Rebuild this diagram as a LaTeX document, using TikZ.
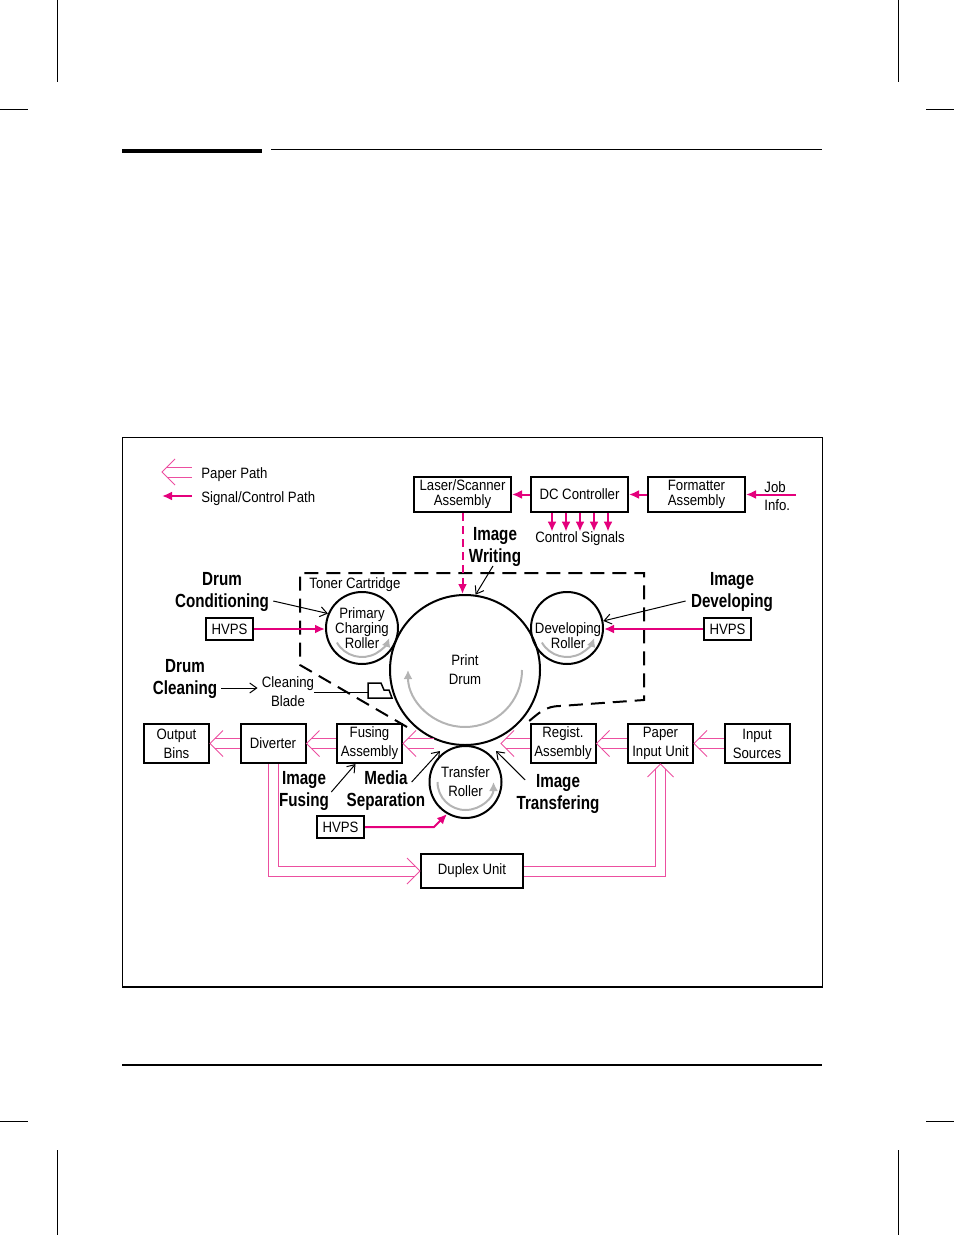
\documentclass[tikz,border=0pt]{standalone}
\usepackage{fontspec}
\setmainfont{Liberation Sans}[FakeStretch=0.88]
\newfontfamily\headfont{Liberation Sans}[FakeStretch=0.8]
\usetikzlibrary{arrows.meta,positioning,calc}
\definecolor{sigpink}{HTML}{E4007C}
\definecolor{paperpink}{HTML}{EC4FA0}
\definecolor{turngray}{HTML}{B4B4B4}
\newcommand{\lbltight}{\fontsize{7.5}{7.5}\selectfont}
\newcommand{\lblloose}{\fontsize{7.5}{9.5}\selectfont}
\newcommand{\lblbold}{\headfont\bfseries\fontsize{9.5}{11}\selectfont}

\begin{document}
\begin{tikzpicture}[
		x=0.5pt,
		y=-0.5pt,
		>=Latex,
		line join=miter,
		unitbox/.style={draw,line width=1pt,inner sep=0pt,align=center},
		topbox/.style={unitbox,minimum width=48.5pt,minimum height=17.5pt,font=\lbltight},
		pathbox/.style={unitbox,minimum width=32.5pt,minimum height=19.5pt,font=\lblloose},
		hvpsbox/.style={unitbox,minimum width=23.5pt,minimum height=11pt,font=\lbltight},
		roller/.style={circle,draw,line width=1pt,minimum size=36pt,inner sep=0pt,align=center,font=\lbltight},
		stage/.style={font=\lblbold,align=center,inner sep=0pt},
		note/.style={font=\lbltight,inner sep=0pt},
		sig/.style={draw=sigpink,line width=1pt,-{Latex[length=5pt,width=4.5pt]}},
		ptr/.style={draw,line width=0.5pt,-{Straight Barb[length=3.5pt,width=5pt]}},
		turn/.style={draw=turngray,line width=1pt,-{Latex[length=4.5pt,width=4.5pt]}},
		paper/.style={draw=paperpink,line width=0.5pt,double=white,double distance=4.5pt,shorten >=2.5pt},
		chev/.pic={\draw[paperpink,line width=0.5pt] (13,-13) -- (0,0) -- (13,13);}
	]
	\useasboundingbox (0,0) rectangle (954,1235);
	
	% Crop marks
	\draw[line width=0.5pt] (57,0) -- (57,82) (0,110) -- (28,110);
	\draw[line width=0.5pt] (898,0) -- (898,82) (926,110) -- (954,110);
	\draw[line width=0.5pt] (57,1150) -- (57,1235) (0,1121) -- (28,1121);
	\draw[line width=0.5pt] (898,1150) -- (898,1235) (926,1121) -- (954,1121);
	
	% Page rules
	\fill (122,149) rectangle (262,153);
	\draw[line width=0.6pt] (271,149.5) -- (822,149.5);
	\draw[line width=0.6pt] (122,1065) -- (822,1065);
	
	% Figure frame
	\draw[line width=0.5pt] (122,437) rectangle (822,987);
	\draw[line width=1pt] (122,987) -- (822,987);
	
	% Legend
	\coordinate (legpaperS) at (192,472);
	\coordinate (legpaperE) at (162,472);
	\coordinate (legsigS) at (192,496);
	\coordinate (legsigE) at (162,496);
	\node[note,anchor=west] (legpaper) at (201,475) {Paper Path};
	\node[note,anchor=west] (legsig) at (201,499) {Signal/Control Path};
	\draw[paper] (legpaperS) -- (legpaperE);
	\pic at (legpaperE) {chev};
	\draw[sig] (legsigS) -- (legsigE);
	
	% Control chain
	\node[topbox] (laser) at (462.5,494.5) {Laser/Scanner\\Assembly};
	\node[topbox] (dcctrl) at (579.5,494.5) {DC Controller};
	\node[topbox] (fmt) at (696.5,494.5) {Formatter\\Assembly};
	\node[anchor=west,align=left,inner sep=0pt,font=\fontsize{7.5}{9}\selectfont] (jobinfo) at (764,496) {Job\\Info.};
	\coordinate (jobin) at (796,494.5);
	\draw[sig] (jobin) -- (fmt.east);
	\draw[sig] (fmt.west) -- (dcctrl.east);
	\draw[sig] (dcctrl.west) -- (laser.east);
	\node[note] (ctrlsig) at (580,539) {Control Signals};
	\foreach \cx in {552,566,580,594,608}
	\draw[sig] (\cx,0 |- dcctrl.south) -- (\cx,0 |- ctrlsig.north);
	
	% Toner cartridge outline
	\draw[line width=1pt,dash pattern=on 7pt off 4pt]
	(407,727) -- (300,665) -- (300,573) -- (644,573) -- (644,700) -- (560,706) to[out=180,in=40] (528,722);
	\node[note,anchor=west] (toner) at (309,585) {Toner Cartridge};
	
	% Drum and rollers
	\node[circle,draw,line width=1pt,minimum size=75pt,inner sep=0pt,align=center,font=\lblloose] (drum) at (465,670) {Print\\Drum};
	\node[roller] (pcr) at (362,628) {Primary\\Charging\\Roller};
	\node[roller] (devroll) at (567,628) {};
	\node[note,align=center] (devtext) at (568,636) {Developing\\Roller};
	\node[roller,font=\lblloose] (transfer) at (465.5,782) {Transfer\\Roller};
	
	% Rotation arrows
	\draw[turn] ($(drum.center)+(0:57)$) arc[start angle=0,end angle=180,radius=57];
	\draw[turn] ($(pcr.center)+(150:29)$) arc[start angle=150,end angle=20,radius=29];
	\draw[turn] ($(devroll.center)+(150:29)$) arc[start angle=150,end angle=20,radius=29];
	\draw[turn] ($(transfer.center)+(180:28)$) arc[start angle=180,end angle=0,radius=28];
	
	% Cleaning blade
	\coordinate (blade) at (368,692);
	\draw[line width=0.75pt] (368,683) -- (381,683) -- (384,690) -- (389,690) -- (392,698) -- (368,698) -- cycle;
	\node[note,align=center,font=\lblloose] (cleanblade) at (288,692) {Cleaning\\Blade};
	\draw[line width=0.5pt] (cleanblade.east) -- (cleanblade.east -| blade);
	
	% Laser beam
	\draw[sig,dash pattern=on 4pt off 2.5pt] (laser.south) -- (laser.south |- drum.north);
	
	% High voltage supplies
	\node[hvpsbox] (hvpsL) at (229.5,629) {HVPS};
	\node[hvpsbox] (hvpsR) at (727.5,629) {HVPS};
	\node[hvpsbox] (hvpsB) at (340.5,827) {HVPS};
	\draw[sig] (hvpsL.east) -- (hvpsL.east -| pcr.west);
	\draw[sig] (hvpsR.west) -- (hvpsR.west -| devroll.east);
	\coordinate (hvbend) at (434,827);
	\draw[sig] (hvpsB.east) -- (hvbend) -- (transfer.240);
	
	% Paper path units
	\node[pathbox] (outbins) at (176.5,743.5) {Output\\Bins};
	\node[pathbox] (diverter) at (273,743.5) {Diverter};
	\node[pathbox] (fusing) at (369.5,743.5) {Fusing\\Assembly};
	\node[pathbox] (regist) at (563,743.5) {Regist.\\Assembly};
	\node[pathbox] (paperin) at (660.5,743.5) {Paper\\Input Unit};
	\node[pathbox] (insrc) at (757,743.5) {Input\\Sources};
	\node[unitbox,minimum width=51pt,minimum height=17pt,font=\lbltight] (duplex) at (472,871) {Duplex Unit};
	\coordinate (nipR) at (501,743.5);
	\coordinate (nipL) at (434,743.5);
	
	% Paper flow
	\draw[paper] (insrc.west) -- (paperin.east);
	\pic at (paperin.east) {chev};
	\draw[paper] (paperin.west) -- (regist.east);
	\pic at (regist.east) {chev};
	\draw[paper] (regist.west) -- (nipR);
	\pic at (nipR) {chev};
	\draw[paper] (nipL) -- (fusing.east);
	\pic at (fusing.east) {chev};
	\draw[paper] (fusing.west) -- (diverter.east);
	\pic at (diverter.east) {chev};
	\draw[paper] (diverter.west) -- (outbins.east);
	\pic at (outbins.east) {chev};
	\draw[paper] (diverter.south) |- (duplex.west);
	\pic[rotate=180] at (duplex.west) {chev};
	\draw[paper] (duplex.east) -| (paperin.south);
	\pic[rotate=-90] at (paperin.south) {chev};
	
	% Process stages
	\node[stage] (imgwrite) at (495,547) {Image\\Writing};
	\node[stage] (drumcond) at (222,592) {Drum\\Conditioning};
	\node[stage] (imgdev) at (732,592) {Image\\Developing};
	\node[stage] (drumclean) at (185,679) {Drum\\Cleaning};
	\node[stage] (imgfuse) at (304,791) {Image\\Fusing};
	\node[stage] (mediasep) at (386,791) {Media\\Separation};
	\node[stage] (imgtrans) at (558,794) {Image\\Transfering};
	\coordinate (sepnip) at (440,751);
	\coordinate (transnip) at (496,751);
	
	\draw[ptr] ($(imgwrite.south)+(-2,-1)$) -- (drum.82);
	\draw[ptr] ($(drumcond.east)+(4,9)$) -- (pcr.157);
	\draw[ptr] ($(imgdev.west)+(-5,9)$) -- (devroll.11);
	\draw[ptr] ($(drumclean.east)+(4,9)$) -- ($(cleanblade.west)+(-4,-4)$);
	\draw[ptr] ($(imgfuse.east)+(2,1)$) -- ($(fusing.south)+(-14,0)$);
	\draw[ptr] ($(mediasep.east)+(-14,-9)$) -- (sepnip);
	\draw[ptr] ($(imgtrans.west)+(9,-14)$) -- (transnip);
	
\end{tikzpicture}
\end{document}
